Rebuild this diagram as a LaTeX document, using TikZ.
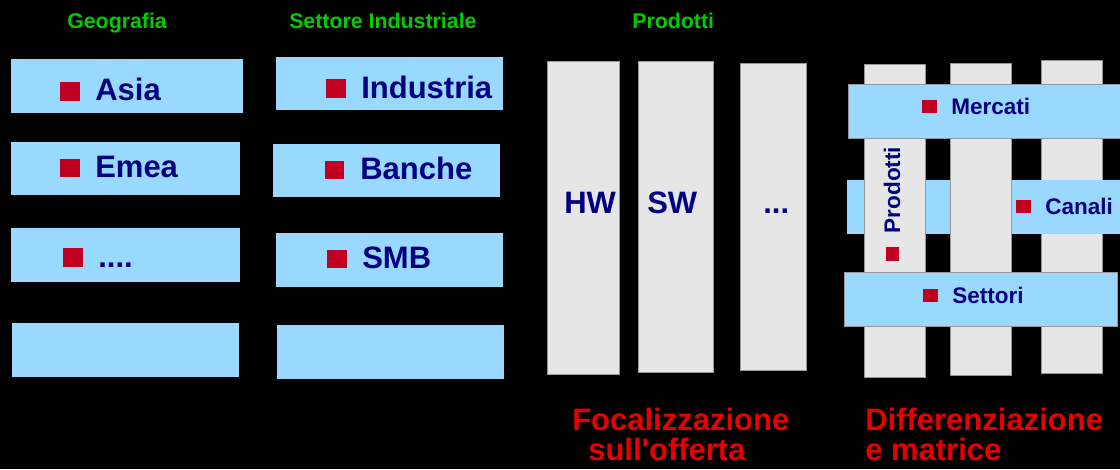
\documentclass[tikz,border=0pt]{standalone}
\usepackage{fontspec}
\newfontfamily\lsans{Liberation Sans}
\definecolor{boxblue}{RGB}{153,217,255}
\definecolor{navytext}{RGB}{0,0,128}
\definecolor{bullred}{RGB}{192,0,32}
\definecolor{headgreen}{RGB}{0,204,0}
\definecolor{titlered}{RGB}{230,0,0}
\definecolor{colgray}{RGB}{230,230,230}
\definecolor{colborder}{RGB}{150,150,150}
\begin{document}
\begin{tikzpicture}[x=0.75pt,y=-0.75pt,
  bluebar/.style={fill=boxblue},
  bluebarb/.style={fill=boxblue,draw=colborder,line width=0.4pt},
  graycol/.style={fill=colgray,draw=colborder,line width=0.6pt},
  bull/.style={fill=bullred},
  lbl/.style={font=\lsans\fontsize{23.25}{28}\selectfont\bfseries,text=navytext,inner sep=0pt,anchor=base west},
  slbl/.style={font=\lsans\fontsize{16.9}{20}\selectfont\bfseries,text=navytext,inner sep=0pt,anchor=base west},
  head/.style={font=\lsans\fontsize{16}{19}\selectfont\bfseries,text=headgreen,inner sep=0pt,anchor=base west},
  ttl/.style={font=\lsans\fontsize{23.25}{28}\selectfont\bfseries,text=titlered,inner sep=0pt,anchor=base west}]
\fill[black] (0,0) rectangle (1120,469);
\useasboundingbox (0,0) rectangle (1120,469);

% headings
\node[head] (hgeo) at (67,28) {Geografia};
\node[head] (hset) at (289,28) {Settore Industriale};
\node[head] (hprod) at (632,28) {Prodotti};

% Geografia column
\path[bluebar] (11,59) rectangle (243,113);
\path[bull] (60,82) rectangle (80,101);
\node[lbl] (asia) at (95,100) {Asia};
\path[bluebar] (11,142) rectangle (240,195);
\path[bull] (60,159) rectangle (80,177);
\node[lbl] (emea) at (95,177) {Emea};
\path[bluebar] (11,228) rectangle (240,282);
\path[bull] (63,248) rectangle (83,267);
\node[lbl] (dots1) at (98,267) {....};
\path[bluebar] (12,323) rectangle (239,377);

% Settore column
\path[bluebar] (276,57) rectangle (503,110);
\path[bull] (326,79) rectangle (346,98);
\node[lbl] (ind) at (361,98) {Industria};
\path[bluebar] (273,144) rectangle (500,197);
\path[bull] (325,161) rectangle (344,179);
\node[lbl] (ban) at (360,179) {Banche};
\path[bluebar] (276,233) rectangle (503,287);
\path[bull] (327,250) rectangle (347,268);
\node[lbl] (smb) at (362,268) {SMB};
\path[bluebar] (277,325) rectangle (504,379);

% Prodotti columns
\path[graycol] (547,61) rectangle (619,374);
\path[graycol] (638,61) rectangle (713,372);
\path[graycol] (740,63) rectangle (806,370);
\node[lbl] (hw) at (564,213) {HW};
\node[lbl] (sw) at (647,213) {SW};
\node[lbl] (dots2) at (763,213) {...};

% matrix
\path[graycol] (1041,60) rectangle (1102,373);
\path[bluebar] (847,180) rectangle (1120,234);
\path[graycol] (864,64) rectangle (925,377);
\path[graycol] (950,63) rectangle (1011,375);
\path[bluebarb] (848,84) rectangle (1121,138);
\path[bluebarb] (844,272) rectangle (1117,326);

\path[bull] (922,100) rectangle (937,113);
\node[slbl] (merc) at (951,114) {Mercati};
\path[bull] (1016,200) rectangle (1031,213);
\node[slbl] (can) at (1045,214) {Canali};
\path[bull] (923,289) rectangle (938,302);
\node[slbl] (sett) at (952,303) {Settori};
\node[slbl,anchor=center,rotate=90] (prodv) at (892,190) {Prodotti};
\path[bull] (886,247) rectangle (899,261);

% bottom titles
\node[ttl] (foc1) at (572,430) {Focalizzazione};
\node[ttl] (foc2) at (588,460) {sull'offerta};
\node[ttl] (dif1) at (865,430) {Differenziazione};
\node[ttl] (dif2) at (865,460) {e matrice};
\end{tikzpicture}
\end{document}
